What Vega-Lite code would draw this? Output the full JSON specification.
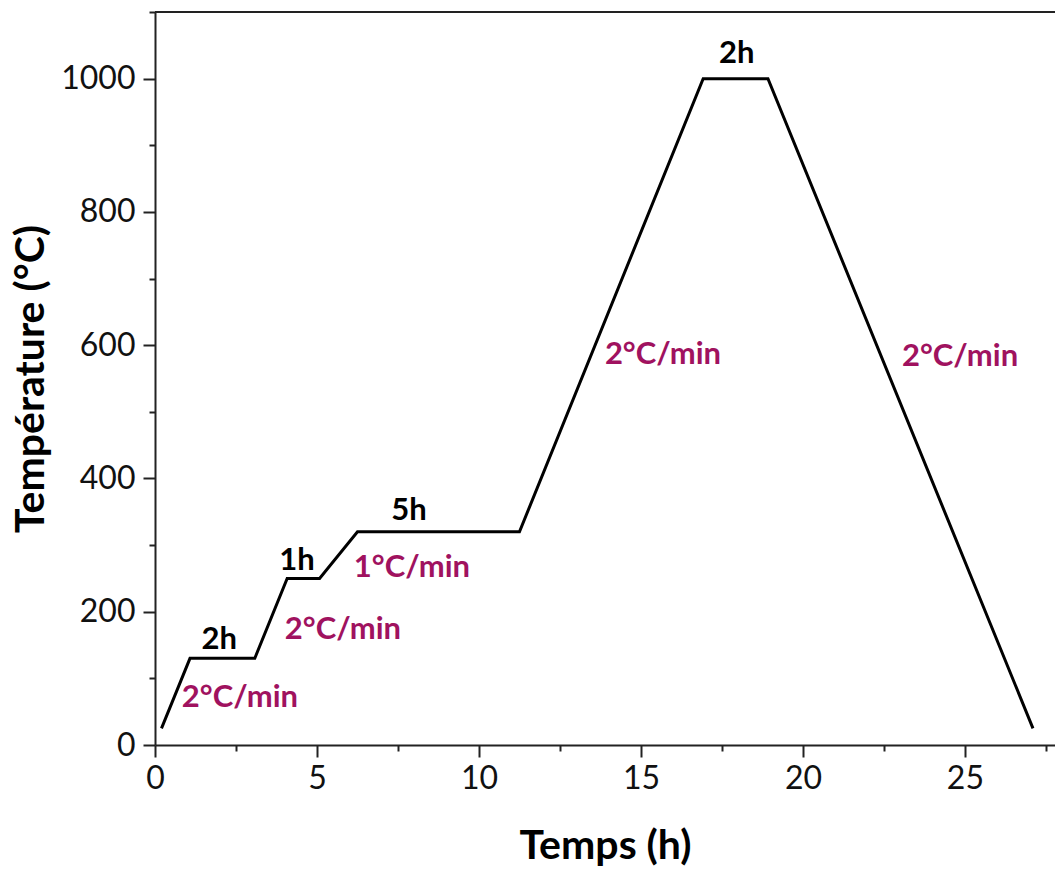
{
  "$schema": "https://vega.github.io/schema/vega-lite/v6.json",
  "autosize": {"type": "none"},
  "padding": {"left": 155, "top": 12, "right": 0, "bottom": 126},
  "width": 900,
  "height": 733,
  "background": "white",
  "config": {
    "view": {"stroke": null},
    "font": "Lato",
    "axis": {"domainColor": "#222", "tickColor": "#222", "domainWidth": 2, "tickWidth": 2, "labelColor": "#111", "titleColor": "#000", "grid": false}
  },
  "datasets": {
    "profile": [
      {"t": 0.2, "T": 25},
      {"t": 1.08, "T": 130},
      {"t": 3.08, "T": 130},
      {"t": 4.08, "T": 250},
      {"t": 5.08, "T": 250},
      {"t": 6.25, "T": 320},
      {"t": 11.25, "T": 320},
      {"t": 16.92, "T": 1000},
      {"t": 18.92, "T": 1000},
      {"t": 27.1, "T": 25}
    ],
    "labels": [
      {"t": 1.98, "T": 157, "txt": "2h", "kind": "durée"},
      {"t": 2.62, "T": 70, "txt": "2°C/min", "kind": "rampe"},
      {"t": 4.38, "T": 276, "txt": "1h", "kind": "durée"},
      {"t": 5.8, "T": 172, "txt": "2°C/min", "kind": "rampe"},
      {"t": 7.84, "T": 351, "txt": "5h", "kind": "durée"},
      {"t": 7.93, "T": 265, "txt": "1°C/min", "kind": "rampe"},
      {"t": 15.68, "T": 586, "txt": "2°C/min", "kind": "rampe"},
      {"t": 17.96, "T": 1037, "txt": "2h", "kind": "durée"},
      {"t": 24.85, "T": 582, "txt": "2°C/min", "kind": "rampe"}
    ]
  },
  "layer": [
    {
      "data": {"name": "profile"},
      "mark": {"type": "line", "color": "#000", "strokeWidth": 3, "strokeJoin": "miter"},
      "encoding": {
        "x": {
          "field": "t", "type": "quantitative",
          "scale": {"domain": [0, 27.78], "nice": false, "zero": false},
          "axis": {
            "title": "Temps (h)",
            "values": [0, 2.5, 5, 7.5, 10, 12.5, 15, 17.5, 20, 22.5, 25, 27.5],
            "labelExpr": "datum.value % 5 === 0 ? datum.label : ''",
            "tickSize": {"condition": {"test": "datum.value % 5 === 0", "value": 12}, "value": 6},
            "labelFontSize": 32, "labelPadding": 6, "labelFont": "Lato", "labelFlush": false,
            "titleFontSize": 41, "titleFontWeight": "bold", "titlePadding": 32, "titleFont": "Lato"
          }
        },
        "y": {
          "field": "T", "type": "quantitative",
          "scale": {"domain": [0, 1100], "nice": false},
          "axis": {
            "title": "Température (°C)",
            "format": "d",
            "values": [0, 100, 200, 300, 400, 500, 600, 700, 800, 900, 1000, 1100],
            "labelExpr": "datum.value % 200 === 0 && datum.value <= 1000 ? datum.label : ''",
            "tickSize": {"condition": {"test": "datum.value % 200 === 0", "value": 12}, "value": 6},
            "labelFontSize": 32, "labelPadding": 8, "labelFont": "Lato", "labelFlush": false,
            "titleFontSize": 41, "titleFontWeight": "bold", "titlePadding": 8, "titleFont": "Lato"
          }
        }
      }
    },
    {
      "data": {"name": "profile"},
      "mark": {"type": "rule", "color": "#222", "strokeWidth": 2},
      "encoding": {
        "y": {"datum": 1100, "type": "quantitative"}
      }
    },
    {
      "data": {"name": "labels"},
      "mark": {"type": "text", "fontSize": 31, "fontWeight": "bold", "font": "Lato", "align": "center", "baseline": "middle"},
      "encoding": {
        "x": {"field": "t", "type": "quantitative"},
        "y": {"field": "T", "type": "quantitative"},
        "text": {"field": "txt"},
        "color": {"field": "kind", "type": "nominal", "scale": {"domain": ["durée", "rampe"], "range": ["#000000", "#a0125f"]}, "legend": null}
      }
    }
  ]
}
